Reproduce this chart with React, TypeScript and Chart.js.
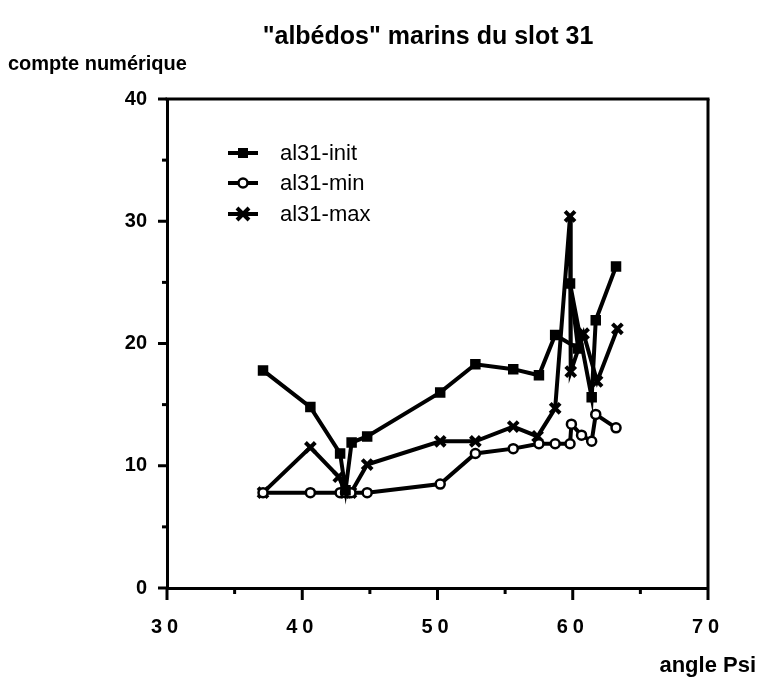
import React, { useEffect, useRef } from "react";
import { Chart, registerables } from "chart.js";

Chart.register(...registerables);

// ---- data ----
const initX = [37.1, 40.6, 42.8, 43.2, 43.65, 44.8, 50.2, 52.8, 55.6, 57.5, 58.7, 60.4, 59.8, 61.4, 61.7, 63.2];
const initY = [17.8, 14.8, 11.0, 8.0, 11.9, 12.4, 16.0, 18.3, 17.9, 17.4, 20.7, 19.6, 24.9, 15.6, 21.9, 26.3];

const minX = [37.1, 40.6, 42.8, 43.2, 43.6, 44.8, 50.2, 52.8, 55.6, 57.5, 58.7, 59.8, 59.9, 60.65, 61.4, 61.7, 63.2];
const minY = [7.8, 7.8, 7.8, 7.8, 7.8, 7.8, 8.5, 11.0, 11.4, 11.8, 11.8, 11.8, 13.4, 12.5, 12.0, 14.2, 13.1];

const maxX = [37.1, 40.6, 42.7, 43.2, 43.6, 44.8, 50.2, 52.8, 55.6, 57.4, 58.7, 59.8, 59.85, 60.8, 61.8, 63.3];
const maxY = [7.8, 11.5, 9.1, 7.8, 7.8, 10.1, 12.0, 12.0, 13.2, 12.4, 14.7, 30.4, 17.7, 20.8, 16.9, 21.2];

const seriesNames = ["al31-init", "al31-min", "al31-max"];
const xMajorTicks = [30, 40, 50, 60, 70];
const xMinorTicks = [35, 45, 55, 65];
const yMajorTicks = [0, 10, 20, 30, 40];
const yMinorTicks = [5, 15, 25, 35];

const TITLE = '"albédos" marins du slot 31';
const Y_TITLE = "compte numérique";
const X_TITLE = "angle Psi";

const FONT = "'Liberation Sans', Arial, Helvetica, sans-serif";

const pts = (xs: number[], ys: number[]) => xs.map((x, i) => ({ x, y: ys[i] }));

function drawMarker(ctx: CanvasRenderingContext2D, style: string, x: number, y: number) {
  ctx.save();
  ctx.strokeStyle = "#000";
  ctx.fillStyle = "#000";
  if (style === "rect") {
    ctx.fillRect(x - 5, y - 5, 10, 10);
  } else if (style === "circle") {
    ctx.lineWidth = 2.5;
    ctx.fillStyle = "#fff";
    ctx.beginPath();
    ctx.arc(x, y, 4.5, 0, Math.PI * 2);
    ctx.fill();
    ctx.stroke();
  } else {
    ctx.lineWidth = 4;
    const r = 6;
    ctx.beginPath();
    ctx.moveTo(x - r, y - r);
    ctx.lineTo(x + r, y + r);
    ctx.moveTo(x - r, y + r);
    ctx.lineTo(x + r, y - r);
    ctx.stroke();
  }
  ctx.restore();
}

const decorPlugin = {
  id: "decor",
  beforeDraw(chart: any) {
    (chart.ctx as any).letterSpacing = "5px";
  },
  beforeDatasetsDraw(chart: any) {
    (chart.ctx as any).letterSpacing = "0px";
  },
  afterDraw(chart: any) {
    const ctx: CanvasRenderingContext2D = chart.ctx;
    const { left, right, top, bottom } = chart.chartArea;
    const xs = chart.scales.x;
    const ys = chart.scales.y;
    ctx.save();
    (ctx as any).letterSpacing = "0px";
    ctx.strokeStyle = "#000";
    ctx.lineWidth = 3;
    ctx.lineCap = "butt";
    const line = (x1: number, y1: number, x2: number, y2: number) => {
      ctx.beginPath();
      ctx.moveTo(x1, y1);
      ctx.lineTo(x2, y2);
      ctx.stroke();
    };
    // frame (top & right)
    line(left - 1.5, top, right + 1.5, top);
    line(right, top, right, bottom);
    // ticks
    xMajorTicks.forEach((v) => { const p = xs.getPixelForValue(v); line(p, bottom, p, bottom + 12); });
    xMinorTicks.forEach((v) => { const p = xs.getPixelForValue(v); line(p, bottom, p, bottom + 6); });
    yMajorTicks.forEach((v) => { const p = ys.getPixelForValue(v); line(left - 9, p, left, p); });
    yMinorTicks.forEach((v) => { const p = ys.getPixelForValue(v); line(left - 5, p, left, p); });

    // texts
    ctx.fillStyle = "#000";
    ctx.textBaseline = "alphabetic";
    ctx.font = `bold 25px ${FONT}`;
    ctx.textAlign = "center";
    ctx.fillText(TITLE, 428, 44);
    ctx.font = `bold 20px ${FONT}`;
    ctx.textAlign = "left";
    ctx.fillText(Y_TITLE, 8, 70);
    ctx.font = `bold 22px ${FONT}`;
    ctx.textAlign = "right";
    ctx.fillText(X_TITLE, 756, 672);

    // legend
    const styles = ["rect", "circle", "crossRot"];
    const ly = [153, 183, 214];
    ctx.font = `22px ${FONT}`;
    ctx.textAlign = "left";
    ctx.textBaseline = "middle";
    seriesNames.forEach((name, i) => {
      ctx.lineWidth = 4;
      line(228, ly[i], 258, ly[i]);
      drawMarker(ctx, styles[i], 243, ly[i]);
      ctx.fillText(name, 280, ly[i] + 1);
    });
    ctx.restore();
  },
};

export default function App() {
  const ref = useRef<HTMLCanvasElement | null>(null);
  useEffect(() => {
    if (!ref.current) return;
    const common = {
      showLine: true,
      borderColor: "#000",
      borderWidth: 4,
      pointBorderColor: "#000",
    };
    const chart = new Chart(ref.current, {
      type: "scatter",
      data: {
        datasets: [
          {
            ...common,
            label: seriesNames[0],
            data: pts(initX, initY),
            pointStyle: "rect",
            pointRadius: 6,
            pointBorderWidth: 2,
            pointBackgroundColor: "#000",
          },
          {
            ...common,
            label: seriesNames[1],
            data: pts(minX, minY),
            pointStyle: "circle",
            pointRadius: 4.5,
            pointBorderWidth: 2.5,
            pointBackgroundColor: "#fff",
          },
          {
            ...common,
            label: seriesNames[2],
            data: pts(maxX, maxY),
            pointStyle: "crossRot",
            pointRadius: 7,
            pointBorderWidth: 4,
            pointBackgroundColor: "#000",
          },
        ] as any,
      },
      options: {
        responsive: false,
        animation: false,
        devicePixelRatio: 1,
        layout: { padding: { top: 99, right: 51, left: 0, bottom: 0 } },
        plugins: {
          legend: { display: false },
          title: { display: false },
          tooltip: { enabled: false },
        },
        scales: {
          x: {
            type: "linear",
            min: 30,
            max: 70,
            grid: { display: false, drawTicks: false },
            border: { display: true, color: "#000", width: 3 },
            ticks: {
              stepSize: 10,
              color: "#000",
              padding: 27,
              maxRotation: 0,
              font: { family: FONT, size: 20, weight: "bold" },
            },
            afterFit: (s: any) => { s.height = 97; },
          },
          y: {
            type: "linear",
            min: 0,
            max: 40,
            grid: { display: false, drawTicks: false },
            border: { display: true, color: "#000", width: 3 },
            ticks: {
              z: 1,
              stepSize: 10,
              color: "#000",
              padding: 20,
              font: { family: FONT, size: 20, weight: "bold" },
            },
            afterFit: (s: any) => { s.width = 167; },
          },
        },
      } as any,
      plugins: [decorPlugin],
    });
    return () => chart.destroy();
  }, []);
  return (
    <div style={{ position: "fixed", left: 0, top: 0, width: 759, height: 685, background: "#fff" }}>
      <canvas ref={ref} width={759} height={685} />
    </div>
  );
}
